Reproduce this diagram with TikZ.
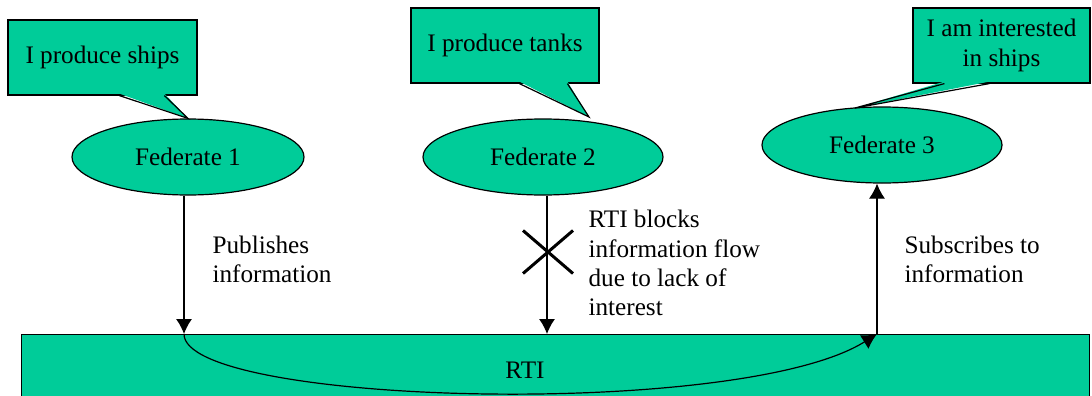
\documentclass[tikz,border=0pt]{standalone}
\usepackage{fontspec}
\newfontfamily\timesfont{Liberation Serif}
\usetikzlibrary{shapes.geometric, shapes.misc, arrows.meta, calc, positioning}
\definecolor{rtigreen}{RGB}{0,204,153}
\tikzstyle{arrow} = [-{Latex[length=7.5pt,width=8pt]}]
\tikzstyle{fed} = [ellipse, draw, fill=rtigreen, minimum width=120pt, minimum height=38pt, inner sep=0pt]
\tikzstyle{bubble} = [rectangle, draw, fill=rtigreen, align=center, inner sep=0pt, minimum height=37.5pt]
\tikzstyle{note} = [align=left, anchor=west, inner sep=0pt]

\begin{document}
\begin{tikzpicture}[x=0.5pt, y=-0.5pt, line width=0.6pt, font=\timesfont\fontsize{12.6}{14.6}\selectfont]
\useasboundingbox (0,0) rectangle (1092,396);
\clip (0,0) rectangle (1092,396);

\node [rectangle, draw, fill=rtigreen, minimum width=534pt, minimum height=60pt, anchor=north west] (rti) at (21,334) {};

\node [fed, minimum width=116pt] (fed1) at (188,157) {Federate 1};
\node [fed] (fed2) at (543,157) {Federate 2};
\node [fed] (fed3) at (882,145) {Federate 3};

\node [bubble, minimum width=94.5pt] (say1) at (102.5,57.5) {I produce ships};
\node [bubble, minimum width=94pt] (say2) at (505,45.5) {I produce tanks};
\node [bubble, minimum width=88.5pt] (say3) at (1001.5,45.5) {I am interested\\in ships};

\coordinate (tip2) at (589,117);
\coordinate (tip3) at (855,108);

\fill [rtigreen] ($(say1.south west)+(112,-2)$) -- (fed1.north) -- ($(say1.south west)+(157,-2)$) -- cycle;
\draw ($(say1.south west)+(112,0)$) -- (fed1.north) -- ($(say1.south west)+(157,0)$);
\fill [rtigreen] ($(say2.south west)+(109,-2)$) -- (tip2) -- ($(say2.south west)+(157,-2)$) -- cycle;
\draw ($(say2.south west)+(109,0)$) -- (tip2) -- ($(say2.south west)+(157,0)$);
\fill [rtigreen] ($(say3.south west)+(32,-2)$) -- (tip3) -- ($(say3.south west)+(77,-2)$) -- cycle;
\draw ($(say3.south west)+(32,0)$) -- (tip3) -- ($(say3.south west)+(77,0)$);

\coordinate (pub) at (184,334);
\coordinate (stop) at (547,334);
\coordinate (sub) at (877,334);

\draw [arrow] (fed1.south -| pub) -- (pub);
\draw [arrow] (fed2.south -| stop) -- (stop);
\draw [arrow] (sub) -- (fed3.south -| sub);
\draw [arrow] (pub) .. controls (184,405) and (740,420) .. (sub);

\node [cross out, draw, line width=1.5pt, minimum width=23.5pt, minimum height=20pt, inner sep=0pt] (block) at (548,252) {};

\node [note] (pubtxt) at (212,259) {Publishes\\information};
\node [note] (blktxt) at (588,263) {RTI blocks\\information flow\\due to lack of\\interest};
\node [note] (subtxt) at (904,259) {Subscribes to\\information};
\node (rtitxt) at (525,370) {RTI};

\end{tikzpicture}
\end{document}
